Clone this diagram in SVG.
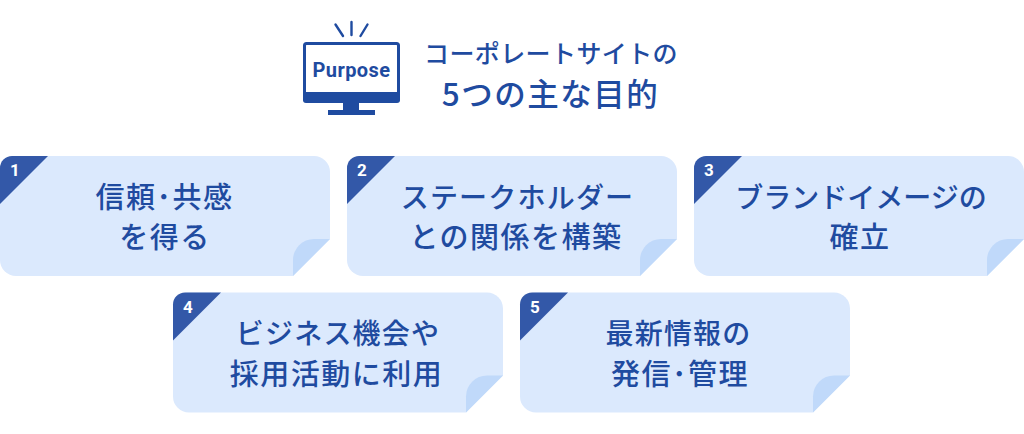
<svg xmlns="http://www.w3.org/2000/svg" xmlns:xlink="http://www.w3.org/1999/xlink" width="1024" height="434" viewBox="0 0 1024 434">
<style>
text{font-family:"Noto Sans CJK JP","Noto Sans",sans-serif;fill:#1f4ba0;text-anchor:middle}
.t{font-size:28px;font-weight:500;letter-spacing:1.2px}
.k{font-size:29px;font-weight:500;letter-spacing:1.500px}
.n{font-size:17px;font-weight:700;fill:#fff;font-family:Roboto,"Noto Sans",sans-serif}
.p{font-family:Roboto,"Noto Sans",sans-serif;font-size:20px;font-weight:700;letter-spacing:.4px}
.h1{font-size:25px;font-weight:500;letter-spacing:.4px}
.h2{font-size:31.500px;font-weight:500;letter-spacing:1.5px}
.body{fill:#dbe9fd}.fold{fill:#c0d9fa}.tab{fill:#3358a8}
</style>
<defs>
<g id="card">
<path class="body" d="M16 0H314A16 16 0 0 1 330 16V83L293 120H16A16 16 0 0 1 0 104V16A16 16 0 0 1 16 0Z"/>
<path class="fold" d="M293 120V104A21 21 0 0 1 314 83H330Z"/>
<path class="tab" d="M0 48V12A12 12 0 0 1 12 0H48Z"/>
</g>
</defs>
<g id="header">
<g fill="none" stroke="#1f4ba0" stroke-width="2.400" stroke-linecap="round">
<path d="M335.500 24.500L343 36M351.500 22V35M367.500 24.500L360.500 36"/>
<rect x="304.500" y="43.500" width="94" height="57" rx="2" stroke-width="3"/>
</g>
<path fill="#1f4ba0" d="M303 92H400V100A3 3 0 0 1 397 103H306A3 3 0 0 1 303 100ZM343 102H359V110H343ZM328 110H375V115H328Z"/>
<text class="p" x="351.500" y="77">Purpose</text>
<text class="h1" x="551" y="63">コーポレートサイトの</text>
<text class="h2" x="550.500" y="106">5つの主な目的</text>
</g>
<g id="node1"><use xlink:href="#card" href="#card" x="0" y="156"/><text class="n" x="15" y="176">1</text><text class="k" x="164.500" y="208">信頼･共感</text><text class="k" x="165" y="248">を得る</text></g>
<g id="node2"><use xlink:href="#card" href="#card" x="347" y="156"/><text class="n" x="362" y="176">2</text><text class="t" x="517.500" y="208">ステークホルダー</text><text class="k" x="516" y="248">との関係を構築</text></g>
<g id="node3"><use xlink:href="#card" href="#card" x="694" y="156"/><text class="n" x="709" y="176">3</text><text class="t" x="861" y="208" style="letter-spacing:0">ブランドイメージの</text><text class="k" x="860" y="248">確立</text></g>
<g id="node4"><use xlink:href="#card" href="#card" x="173" y="292.500"/><text class="n" x="188" y="312.500">4</text><text class="t" x="338" y="344">ビジネス機会や</text><text class="k" x="336.500" y="385">採用活動に利用</text></g>
<g id="node5"><use xlink:href="#card" href="#card" x="520" y="292.500"/><text class="n" x="535" y="312.500">5</text><text class="t" x="678.500" y="344">最新情報の</text><text class="k" x="680" y="385">発信･管理</text></g>
<g id="connectors"></g>
</svg>
